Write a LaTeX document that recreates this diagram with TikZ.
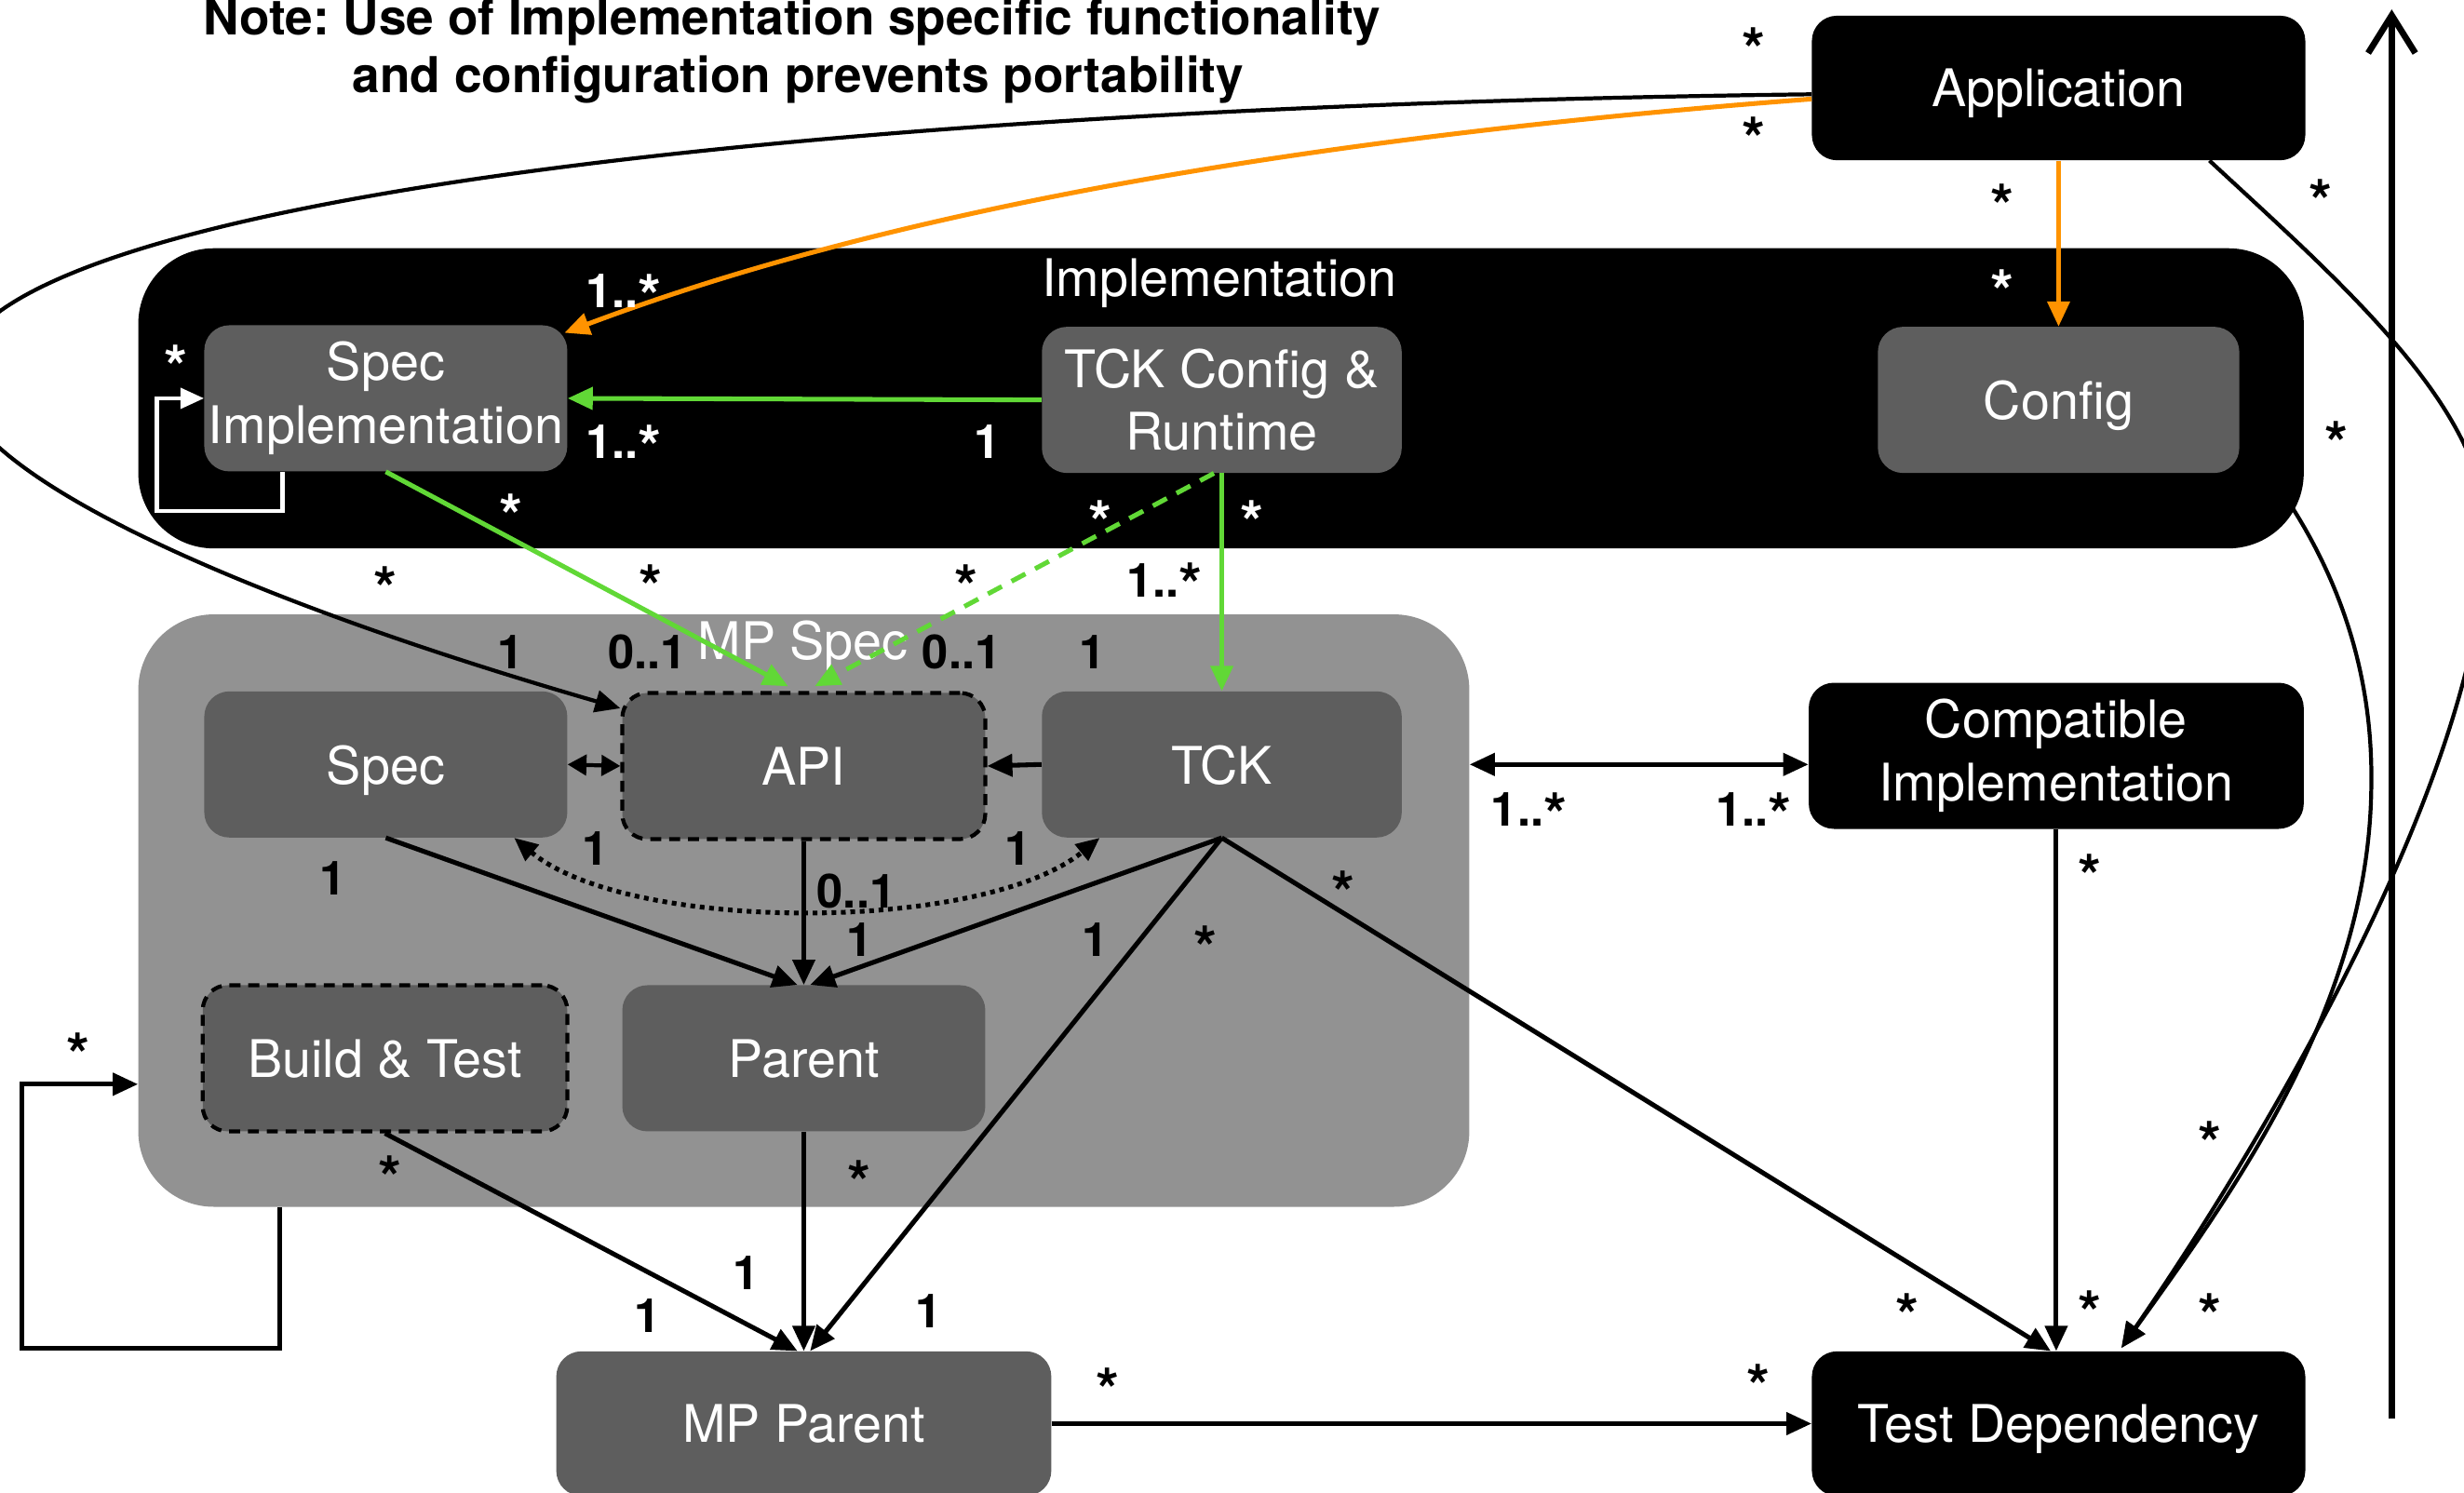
\documentclass[tikz,border=0pt]{standalone}
\usepackage{fontspec}
\setmainfont{TeX Gyre Heros}
\usetikzlibrary{arrows.meta}
\definecolor{boxgrey}{HTML}{5E5E5E}
\definecolor{specgrey}{HTML}{929292}
\definecolor{grn}{HTML}{61D836}
\definecolor{org}{HTML}{FF9300}
\newcommand\mystar{\raisebox{-6.3pt}{\fontsize{38}{38}\selectfont\bfseries *}}
\begin{document}
\frenchspacing
\begin{tikzpicture}[x=1pt,y=-1pt,
  box/.style={fill=boxgrey, rounded corners=16pt, minimum width=231pt, minimum height=93pt, inner sep=0pt, text=white, align=center, font=\fontsize{33}{40}\selectfont},
  one/.style={text depth=0pt},
  bbox/.style={box, fill=black},
  dbox/.style={box, draw=black, line width=2.5pt, dash pattern=on 7pt off 5pt},
  cont/.style={rounded corners=48pt, inner sep=0pt},
  title/.style={text=white, inner sep=0pt, font=\fontsize{33}{40}\selectfont},
  notefont/.style={inner sep=0pt, anchor=base, font=\fontsize{31.5}{38}\selectfont\bfseries},
  lb/.style={font=\fontsize{30}{30}\selectfont\bfseries, inner sep=0pt, text height=21.5pt, text depth=0pt},
  wl/.style={lb, text=white},
  st/.style={lb, yshift=-4pt},
  wst/.style={st, text=white},
  head/.style={-{Triangle[length=16pt,width=14pt]}},
  con/.style={line width=3pt, head},
  thin/.style={line width=2.5pt, head},
  garr/.style={draw=grn, line width=3pt, -{Triangle[length=16pt,width=14pt,fill=grn]}},
  oarr/.style={draw=org, line width=3pt, -{Triangle[length=16pt,width=14pt,fill=org]}},
]
\useasboundingbox (0,0) rectangle (1568,950);
\clip (0,0) rectangle (1568,950);
\fill[white] (0,0) rectangle (1568,950);

% containers
\node[cont, fill=black, minimum width=1378pt, minimum height=191pt] (impl) at (777,253.5) {};
\node[cont, fill=specgrey, minimum width=847pt, minimum height=377pt] (mpspec) at (511.5,579.5) {};
\node[title] (impltitle) at (776,180) {Implementation};
\node[title] (mpspectitle) at (511,411) {MP Spec};

% note
\node[notefont] (note1) at (504,22) {Note: Use of Implementation specific functionality};
\node[notefont] (note2) at (508,59) {and configuration prevents portability};

% boxes
\node[bbox, one, minimum width=314pt, minimum height=92pt] (app) at (1310,56) {Application};
\node[box] (specimpl) at (245.5,253.5) {Spec\\Implementation};
\node[box, minimum width=229pt] (tckconf) at (777.5,254.5) {TCK Config \&\\Runtime};
\node[box, one, minimum width=230pt] (config) at (1310,254.5) {Config};
\node[box, one] (spec) at (245.5,486.5) {Spec};
\node[dbox, one] (api) at (511.5,487.5) {API};
\node[box, one, minimum width=229pt] (tck) at (777.5,486.5) {TCK};
\node[dbox, one, minimum width=232pt] (build) at (245,673.5) {Build \& Test};
\node[box, one] (parent) at (511.5,673.5) {Parent};
\node[box, one, minimum width=315pt, minimum height=92pt] (mpparent) at (511.5,906) {MP Parent};
\node[bbox, minimum width=315pt] (compat) at (1308.5,481) {Compatible\\Implementation};
\node[bbox, one, minimum width=314pt, minimum height=92pt] (testdep) at (1310,906) {Test Dependency};

% orange connectors
\draw[oarr] ([yshift=-7pt]app.west) .. controls (800,90) and (550,140) .. ([xshift=-2pt,yshift=-5pt]specimpl.north east);
\draw[oarr] (app.south) -- (config.north);

% long black curve from Application to API
\draw[thin] ([yshift=-4pt]app.west) .. controls (500,68) and (-28,130) .. (-28,240) .. controls (-28,300) and (150,380) .. ([yshift=-11pt]api.north west);

% green connectors
\draw[garr] (tckconf.west) -- (specimpl.east);
\draw[garr] (specimpl.south) -- ([xshift=-10pt,yshift=3pt]api.north);
\draw[garr, dash pattern=on 10pt off 7pt] ([xshift=-5pt]tckconf.south) -- ([xshift=7pt,yshift=3pt]api.north);
\draw[garr] (tckconf.south) -- (tck.north);

% white self loop
\draw[white, line width=2.5pt, -{Triangle[length=15pt,width=13pt]}] ([xshift=50pt]specimpl.south west) -- ++(0,25) -- ++(-80,0) |- (specimpl.west);

% MP Spec internal connectors
\draw[line width=2.5pt, {Triangle[length=12pt,width=13pt]}-{Triangle[length=12pt,width=13pt]}] (spec.east) -- (api.west);
\draw[con] (tck.west) -- (api.east);
\draw[line width=3pt, dash pattern=on 3pt off 3pt, {Triangle[length=15pt,width=13pt]}-{Triangle[length=15pt,width=13pt]}] ([xshift=-34pt]spec.south east) .. controls (400,594) and (625,594) .. ([xshift=37pt]tck.south west);
\draw[con] (spec.south) -- ([xshift=-4pt]parent.north);
\draw[con] (api.south) -- (parent.north);
\draw[con] (tck.south) -- ([xshift=4pt]parent.north);
\draw[con] (tck.south) -- ([xshift=4pt]mpparent.north);
\draw[con] (build.south) -- ([xshift=-4pt]mpparent.north);
\draw[con] (parent.south) -- (mpparent.north);
\draw[con] (tck.south) -- ([xshift=-5pt]testdep.north);
\draw[con] (mpparent.east) -- (testdep.west);
\draw[con] (compat.south) -- (compat.south |- testdep.north);
\draw[line width=3pt, {Triangle[length=16pt,width=14pt]}-{Triangle[length=16pt,width=14pt]}] (mpspec.east |- tck.east) -- (compat.west |- tck.east);

% MP Spec self loop
\draw[con] ([xshift=90pt]mpspec.south west) -- ++(0,90) -- ++(-164,0) |- ([yshift=-110.5pt]mpspec.west);

% curves to Test Dependency
\draw[thin] ([xshift=96pt]app.south) .. controls (1490,180) and (1582,260) .. (1582,338) .. controls (1582,480) and (1455,705) .. ([xshift=40pt,yshift=2pt]testdep.north);
\draw[thin] ([xshift=-8pt,yshift=27pt]impl.south east) .. controls (1495,380) and (1510,440) .. (1509,500) .. controls (1508,640) and (1420,760) .. ([xshift=40pt,yshift=2pt]testdep.north);

% big vertical arrow
\coordinate (vb) at (1522,903);
\coordinate (vt) at (1522,6);
\draw[line width=4.5pt, -{Straight Barb[length=24pt,width=30pt,line width=4pt]}] (vb) -- (vt);

% white labels
\node[wst] (w1) at (112,226) {\mystar};
\node[wl] (w2) at (397,185) {1..\mystar};
\node[wl] (w3) at (397,281) {1..\mystar};
\node[wl] (w4) at (628,281) {1};
\node[wst] (w5) at (325,321) {\mystar};
\node[wst] (w6) at (700,325) {\mystar};
\node[wst] (w7) at (797,325) {\mystar};
\node[wst] (w8) at (1274,178) {\mystar};

% black labels
\node[st] (b1) at (1116,24) {\mystar};
\node[st] (b2) at (1116,81) {\mystar};
\node[st] (b3) at (1274,124) {\mystar};
\node[st] (b4) at (1477,121) {\mystar};
\node[st] (b5) at (1487,275) {\mystar};
\node[st] (b6) at (245,367) {\mystar};
\node[st] (b7) at (414,366) {\mystar};
\node[st] (b8) at (615,366) {\mystar};
\node[lb] (b9) at (741,369) {1..\mystar};
\node[lb] (b10) at (325,415) {1};
\node[lb] (b11) at (412,415) {0..1};
\node[lb] (b12) at (612,415) {0..1};
\node[lb] (b13) at (695,415) {1};
\node[lb] (b14) at (212,559) {1};
\node[lb] (b15) at (379,540) {1};
\node[lb] (b16) at (648,540) {1};
\node[lb] (b17) at (545,567) {0..1};
\node[lb] (b18) at (547,598) {1};
\node[lb] (b19) at (697,598) {1};
\node[st] (b20) at (767,596) {\mystar};
\node[st] (b21) at (855,561) {\mystar};
\node[st] (b22) at (248,742) {\mystar};
\node[st] (b23) at (547,745) {\mystar};
\node[lb] (b24) at (475,810) {1};
\node[lb] (b25) at (412,837) {1};
\node[lb] (b26) at (591,834) {1};
\node[st] (b27) at (705,877) {\mystar};
\node[st] (b28) at (1119,875) {\mystar};
\node[lb] (b29) at (973,515) {1..\mystar};
\node[lb] (b30) at (1116,515) {1..\mystar};
\node[st] (b31) at (1330,550) {\mystar};
\node[st] (b32) at (1406,720) {\mystar};
\node[st] (b33) at (1214,830) {\mystar};
\node[st] (b34) at (1330,828) {\mystar};
\node[st] (b35) at (1406,830) {\mystar};
\node[st] (b36) at (50,664) {\mystar};
\end{tikzpicture}
\end{document}
